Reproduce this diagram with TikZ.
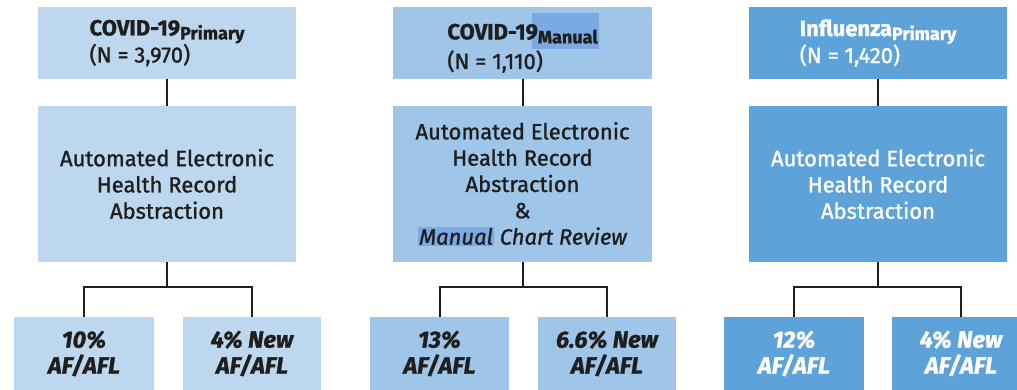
\documentclass[tikz,border=0pt]{standalone}
\usepackage{fontspec}
\setmainfont{Fira Sans}[FakeBold=1.2]
\definecolor{cA}{HTML}{BDD7EE}
\definecolor{cB}{HTML}{9FC5E8}
\definecolor{cC}{HTML}{5DA3DA}
\definecolor{hl}{HTML}{7BAAE2}
\definecolor{ink}{HTML}{1E1E1E}
\newcommand{\subtxt}[1]{\raisebox{-4pt}{\fontsize{18}{18}\selectfont #1}}
\begin{document}
\begin{tikzpicture}[x=1pt,y=-1pt,
  box/.style={draw=none,inner sep=0pt,outer sep=0pt,align=center,text=ink},
  topbox/.style={box,minimum height=72pt,align=left,font=\fontsize{22}{27}\selectfont},
  midbox/.style={box,minimum height=156pt,font=\fontsize{22}{26.3}\selectfont},
  botbox/.style={box,minimum height=73pt,font=\fontsize{23.5}{26}\selectfont\bfseries\itshape},
  link/.style={draw=ink,line width=2pt}]
\useasboundingbox (0,0) rectangle (1017,390);
% column 1
\node[topbox,fill=cA,minimum width=258pt] (t1) at (167,43) {\textbf{COVID-19\subtxt{Primary}}\\(N = 3,970)};
\node[midbox,fill=cA,minimum width=258pt] (m1) at (167,184) {Automated Electronic\\Health Record\\Abstraction};
\node[botbox,fill=cA,minimum width=140pt] (b1l) at (84,353.5) {10\%\\AF/AFL};
\node[botbox,fill=cA,minimum width=138pt] (b1r) at (252,353.5) {4\% New\\AF/AFL};
% column 2
\node[topbox,fill=cB,minimum width=259pt] (t2) at (522.5,43) {\textbf{COVID-1\rlap{\kern6pt\setlength{\fboxsep}{0pt}\colorbox{hl}{\rule[-10pt]{0pt}{36pt}\hphantom{\subtxt{Manual}}\kern8pt}}9\subtxt{Manual}}\\(N = 1,110)};
\node[midbox,fill=cB,minimum width=259pt] (m2) at (522.5,184) {Automated Electronic\\Health Record\\Abstraction\\\&\\{\setlength{\fboxsep}{1pt}\colorbox{hl}{\itshape Manual}} \itshape Chart Review};
\node[botbox,fill=cB,minimum width=139pt] (b2l) at (439.5,353.5) {13\%\\AF/AFL};
\node[botbox,fill=cB,minimum width=138pt] (b2r) at (607,353.5) {6.6\% New\\AF/AFL};
% column 3
\node[topbox,fill=cC,minimum width=258pt,text=white] (t3) at (878,43) {\textbf{Influenza\subtxt{Primary}}\\(N = 1,420)};
\node[midbox,fill=cC,minimum width=258pt,text=white] (m3) at (878,184) {Automated Electronic\\Health Record\\Abstraction};
\node[botbox,fill=cC,minimum width=140pt,text=white] (b3l) at (794,353.5) {12\%\\AF/AFL};
\node[botbox,fill=cC,minimum width=138pt,text=white] (b3r) at (961,353.5) {4\% New\\AF/AFL};
% junctions
\coordinate (j1) at (167,287);
\coordinate (j2) at (522.5,287);
\coordinate (j3) at (878,287);
% connectors
\draw[link] (t1.south) -- (m1.north);
\draw[link] (m1.south) -- (j1);
\draw[link] (b1l.north) |- (j1) -| (b1r.north);
\draw[link] (t2.south) -- (m2.north);
\draw[link] (m2.south) -- (j2);
\draw[link] (b2l.north) |- (j2) -| (b2r.north);
\draw[link] (t3.south) -- (m3.north);
\draw[link] (m3.south) -- (j3);
\draw[link] (b3l.north) |- (j3) -| (b3r.north);
\end{tikzpicture}
\end{document}
